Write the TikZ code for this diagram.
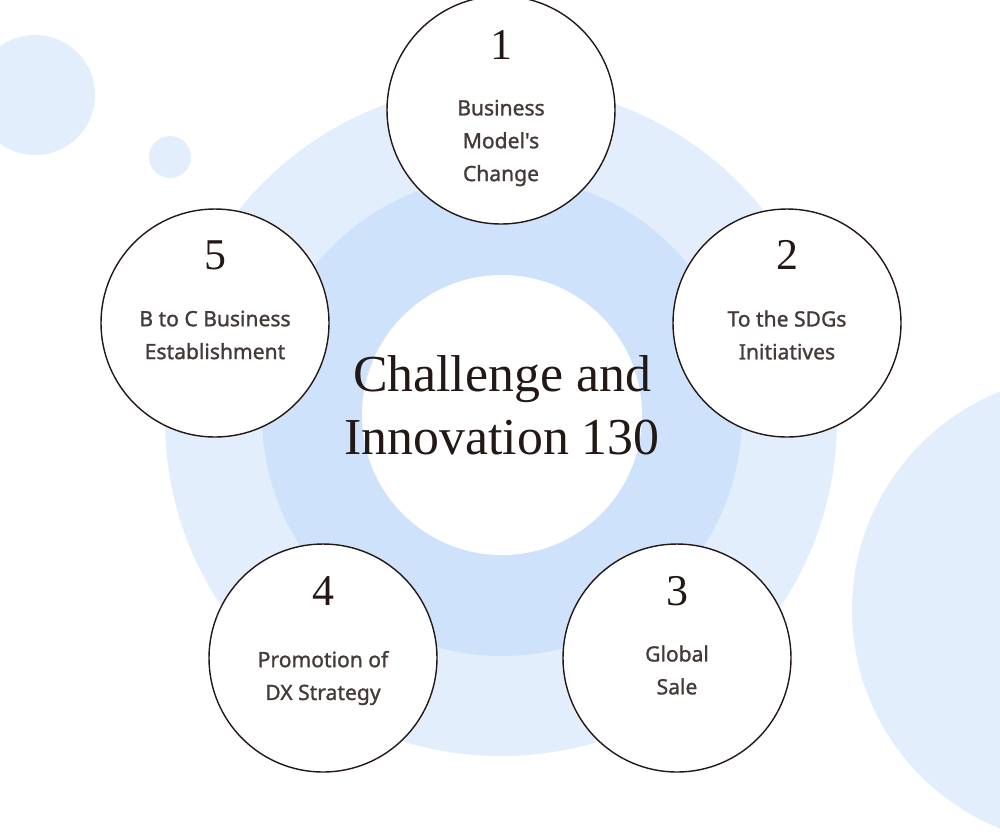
\documentclass[tikz,border=0pt]{standalone}
\usepackage{fontspec}
\setmainfont{Liberation Serif}
\newfontfamily\lbl[FakeBold=1.2]{Noto Sans}
\definecolor{ringA}{HTML}{E3EEFD}
\definecolor{ringB}{HTML}{CFE2FC}
\definecolor{txt}{HTML}{231815}
\begin{document}
\begin{tikzpicture}[x=0.02cm,y=-0.02cm,
  petal/.style={circle,draw=txt,line width=0.8pt,fill=white,minimum size=228*0.02cm,inner sep=0pt},
  num/.style={font=\fontsize{25}{25}\selectfont,text=txt},
  lab/.style={font=\lbl\fontsize{12}{18.7}\selectfont,text=txt!85,align=center}]
\clip (0,0) rectangle (1000,833);
\fill[white] (0,0) rectangle (1000,833);
\fill[ringA] (35,95) circle (60);
\fill[ringA] (170,157) circle (21);
\fill[ringA] (1087,610) circle (235);
\fill[ringA] (501,420) circle (336);
\fill[ringB] (502,416) circle (240);
\fill[white] (502,415) circle (140);
\node[font=\fontsize{29.5}{36}\selectfont,text=txt,align=center] (c) at (502,405) {Challenge and\\Innovation 130};
\node[petal] (p1) at (501,110) {};
\node[petal] (p2) at (787,323) {};
\node[petal] (p5) at (215,323) {};
\node[petal] (p3) at (677,658) {};
\node[petal] (p4) at (323,658) {};
\node[num] (n1) at (501,45) {1};
\node[lab] (l1) at (501,143) {Business\\Model's\\Change};
\node[num] (n2) at (787,255) {2};
\node[lab] (l2) at (787,335) {To the SDGs\\Initiatives};
\node[num] (n5) at (215,255) {5};
\node[lab] (l5) at (215,335) {B to C Business\\Establishment};
\node[num] (n3) at (677,591) {3};
\node[lab] (l3) at (677,670) {Global\\Sale};
\node[num] (n4) at (323,591) {4};
\node[lab] (l4) at (323,678) {Promotion of\\DX Strategy};
\end{tikzpicture}
\end{document}
